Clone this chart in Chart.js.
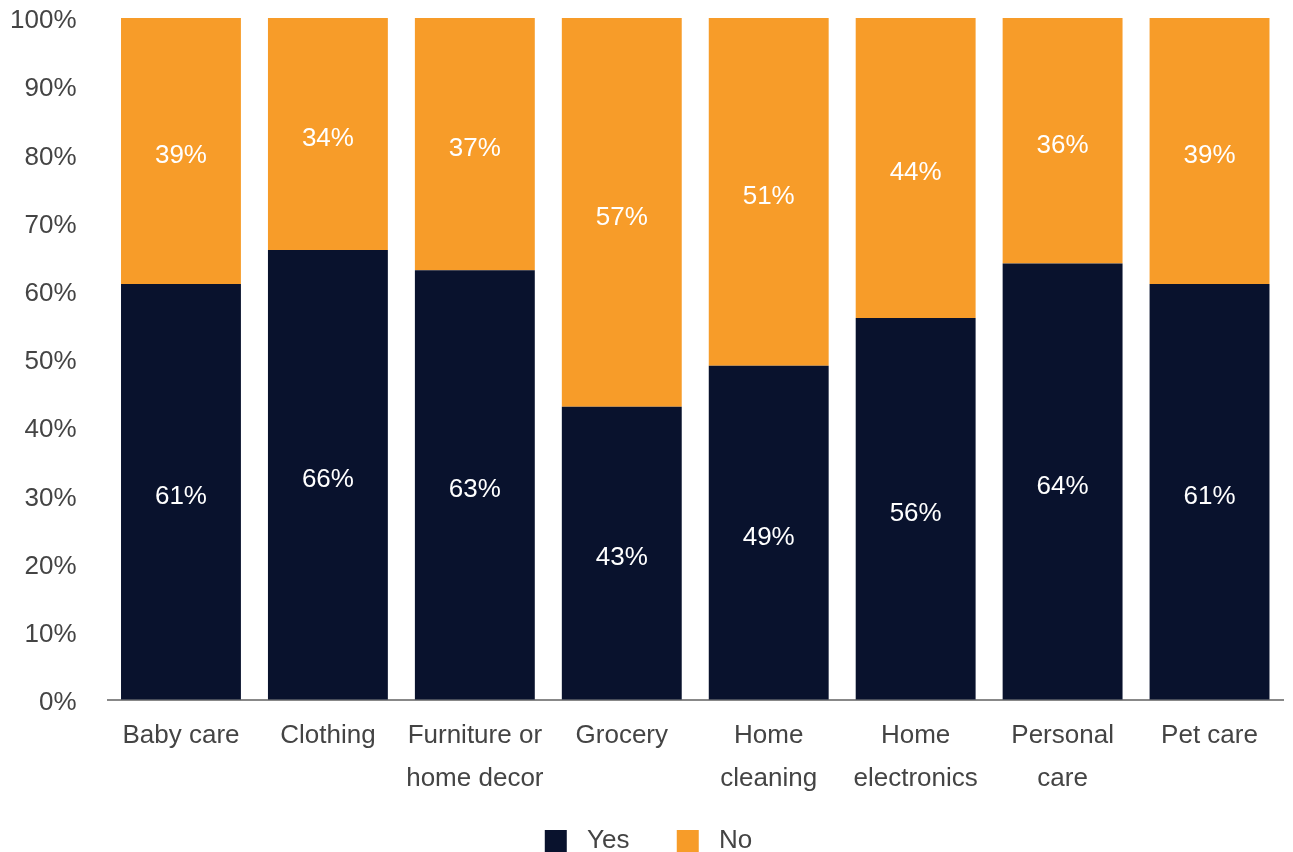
<!DOCTYPE html>
<html>
<head>
<meta charset="utf-8">
<script src="https://cdn.jsdelivr.net/npm/chart.js@4"></script>
<style>
  html, body { margin: 0; padding: 0; background: #fff; }
  #wrap { width: 1293px; height: 852px; position: relative; }
</style>
</head>
<body>
<div id="wrap"><canvas id="myChart"></canvas></div>
<script>
// chart data
const categories = [
  ['Baby care'], ['Clothing'], ['Furniture or', 'home decor'], ['Grocery'],
  ['Home', 'cleaning'], ['Home', 'electronics'], ['Personal', 'care'], ['Pet care']
];
const yesValues = [61, 66, 63, 43, 49, 56, 64, 61];
const noValues = [39, 34, 37, 57, 51, 44, 36, 39];
const yTicks = [0, 10, 20, 30, 40, 50, 60, 70, 80, 90, 100];

const fontFamily = '"Liberation Sans", Arial, Helvetica, sans-serif';
const textColor = '#444444';
const fontSize = 26;

// draws the white % label in the middle of each bar segment
const barLabels = {
  id: 'barLabels',
  afterLayout(chart) {
    // nudge the legend a little to the right, like the original
    chart.legend.left += 7;
    chart.legend.right += 7;
  },
  afterDatasetsDraw(chart) {
    const ctx = chart.ctx;
    ctx.save();
    ctx.fillStyle = '#ffffff';
    ctx.font = fontSize + 'px ' + fontFamily;
    ctx.textAlign = 'center';
    ctx.textBaseline = 'middle';
    chart.data.datasets.forEach((ds, i) => {
      const meta = chart.getDatasetMeta(i);
      meta.data.forEach((bar, j) => {
        const mid = (bar.y + bar.base) / 2;
        ctx.fillText(ds.data[j] + '%', bar.x, mid + 5);
      });
    });
    ctx.restore();
  }
};

new Chart(document.getElementById('myChart'), {
  type: 'bar',
  data: {
    labels: categories,
    datasets: [
      { label: 'Yes', data: yesValues, backgroundColor: '#09122d', borderWidth: 0 },
      { label: 'No', data: noValues, backgroundColor: '#f79c29', borderWidth: 0 }
    ]
  },
  options: {
    responsive: true,
    maintainAspectRatio: false,
    animation: false,
    layout: { autoPadding: false, padding: { top: 18, right: 10, left: 0, bottom: -12 } },
    datasets: { bar: { barPercentage: 0.816, categoryPercentage: 1 } },
    scales: {
      x: {
        stacked: true,
        afterFit(scale) { scale.height = 124; },
        grid: { display: false, drawTicks: false },
        border: { display: true, color: '#888888', width: 2 },
        ticks: {
          color: textColor,
          font: { family: fontFamily, size: fontSize, lineHeight: 1.65 },
          padding: 14,
          maxRotation: 0,
          autoSkip: false
        }
      },
      y: {
        stacked: true,
        min: 0,
        max: 100,
        afterFit(scale) { scale.width = 107.5; },
        afterBuildTicks(scale) { scale.ticks = yTicks.map(v => ({ value: v })); },
        grid: { display: true, drawOnChartArea: false, drawTicks: true, tickLength: 29, color: 'rgba(0,0,0,0)' },
        border: { display: false },
        ticks: {
          color: textColor,
          font: { family: fontFamily, size: fontSize },
          padding: 2,
          labelOffset: 3,
          callback: v => v + '%'
        }
      }
    },
    plugins: {
      legend: {
        position: 'bottom',
        labels: {
          color: textColor,
          font: { family: fontFamily, size: fontSize },
          boxWidth: 22,
          boxHeight: 22,
          padding: 4,
          generateLabels(chart) {
            const items = Chart.defaults.plugins.legend.labels.generateLabels(chart);
            items.forEach((it, i) => {
              it.text = ' ' + it.text + (i === 0 ? '      ' : '');
            });
            return items;
          }
        }
      },
      tooltip: { enabled: false }
    }
  },
  plugins: [barLabels]
});
</script>
</body>
</html>
